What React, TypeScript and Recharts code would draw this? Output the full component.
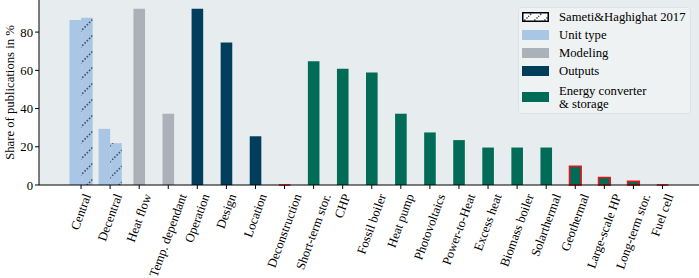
import React from 'react';
import { BarChart, Bar, XAxis, YAxis, CartesianGrid, Legend, Label } from 'recharts';

const categories = [
  'Central', 'Decentral', 'Heat flow', 'Temp. dependant', 'Operation', 'Design', 'Location',
  'Deconstruction', 'Short-term stor.', 'CHP', 'Fossil boiler', 'Heat pump', 'Photovoltaics',
  'Power-to-Heat', 'Excess heat', 'Biomass boiler', 'Solarthermal', 'Geothermal', 'Large-scale HP',
  'Long-term stor.', 'Fuel cell',
];
const groups = [
  'Unit type', 'Unit type', 'Modeling', 'Modeling', 'Outputs', 'Outputs', 'Outputs', 'Outputs',
  'Energy converter & storage', 'Energy converter & storage', 'Energy converter & storage',
  'Energy converter & storage', 'Energy converter & storage', 'Energy converter & storage',
  'Energy converter & storage', 'Energy converter & storage', 'Energy converter & storage',
  'Energy converter & storage', 'Energy converter & storage', 'Energy converter & storage',
  'Energy converter & storage',
];
// share of publications in % (this review)
const shares = [86.3, 29.4, 92.2, 37.3, 92.2, 74.5, 25.5, 0, 64.7, 60.8, 58.8, 37.3, 27.5, 23.5, 19.6, 19.6, 19.6, 9.8, 3.9, 2.0, 0];
// Sameti & Haghighat 2017, only unit type
const sametiShares = [87.5, 21.9, null, null, null, null, null, null, null, null, null, null, null, null, null, null, null, null, null, null, null];
const highlighted = ['Deconstruction', 'Geothermal', 'Large-scale HP', 'Long-term stor.', 'Fuel cell'];
const groupNames = ['Unit type', 'Modeling', 'Outputs', 'Energy converter & storage'];
const referenceName = 'Sameti&Haghighat 2017';
const yTicks = [0, 20, 40, 60, 80];

const groupColors: Record<string, string> = {
  'Unit type': '#a9c7e4',
  'Modeling': '#aab1b8',
  'Outputs': '#003e5c',
  'Energy converter & storage': '#006b56',
};

const FONT = '"Liberation Serif", "Times New Roman", serif';
const FS = 12.7;

const data = categories.map((name, i) => ({
  name,
  share: shares[i],
  sameti: sametiShares[i],
  group: groups[i],
  highlight: highlighted.includes(name),
}));

const ctx = typeof document !== 'undefined' ? document.createElement('canvas').getContext('2d') : null;
const measure = (s: string) => {
  if (!ctx) return s.length * FS * 0.45;
  ctx.font = `${FS}px ${FONT}`;
  return ctx.measureText(s).width;
};

const rad = (70 * Math.PI) / 180;

// matplotlib-style rotated label: bounding box centred on the tick, top just below it
const XTick = (props: any) => {
  const { x, y, payload } = props;
  const len = measure(payload.value);
  const h = len * Math.sin(rad) + FS * 1.1 * Math.cos(rad);
  const cy = y + 1 + h / 2;
  return (
    <text
      transform={`translate(${x},${cy}) rotate(-70)`}
      textAnchor="middle"
      dominantBaseline="central"
      fontFamily={FONT}
      fontSize={FS}
      fill="#000"
    >
      {payload.value}
    </text>
  );
};

const MainBar = (props: any) => {
  const { x, y, width, height, payload } = props;
  if (x == null || y == null || isNaN(y)) return null;
  const left = payload.sameti == null ? x + width / 2 : x;
  const top = Math.min(y, y + height);
  const h = Math.abs(height || 0);
  const d = `M${left},${top + h}V${top}H${left + width}V${top + h}Z`;
  return (
    <path
      d={d}
      fill={groupColors[payload.group]}
      stroke={payload.highlight ? '#e8141c' : 'none'}
      strokeWidth={1.6}
    />
  );
};

const renderYLabel = (props: any) => {
  const vb = props.viewBox;
  const cx = vb.x + 10;
  const cy = vb.y + vb.height / 2;
  return (
    <text
      transform={`translate(${cx},${cy}) rotate(-90)`}
      textAnchor="middle"
      dominantBaseline="central"
      fontFamily={FONT}
      fontSize={FS}
      fill="#000"
    >
      Share of publications in %
    </text>
  );
};

// legend drawn as svg so it uses the same text rendering as the axes
const LegendBox = () => {
  const entries = [referenceName, ...groupNames];
  let rowTop = 1;
  return (
    <svg width={173} height={107} style={{ display: 'block' }}>
      <defs>
        <pattern id="legendHatch" patternUnits="userSpaceOnUse" width={10} height={10}>
          <rect width={10} height={10} fill="#fff" />
          <line x1={0} y1={10} x2={10} y2={0} stroke="#3d5168" strokeWidth={1.5} strokeDasharray="1.5 1.5" />
        </pattern>
      </defs>
      <rect x={0.5} y={0.5} width={172} height={106} rx={3} fill="#eef2f3" stroke="#dde3e5" />
      {entries.map((name, i) => {
        const lines = name.replace(' & ', '\n& ').split('\n');
        const multi = lines.length > 1;
        if (multi) rowTop += 4;
        const rowH = multi ? 26 : 18;
        const cy = rowTop + rowH / 2;
        rowTop += rowH;
        return (
          <g key={name}>
            {i === 0 ? (
              <rect x={4.75} y={cy - 4.25} width={25.5} height={8.5} fill="url(#legendHatch)" stroke="#000" strokeWidth={1.5} />
            ) : (
              <rect x={4} y={cy - 5} width={27} height={10} fill={groupColors[name]} />
            )}
            {lines.map((ln, j) => (
              <text
                key={ln}
                x={41}
                y={cy + (j - (lines.length - 1) / 2) * 13}
                dominantBaseline="central"
                fontFamily={FONT}
                fontSize={FS}
                fill="#000"
              >
                {ln}
              </text>
            ))}
          </g>
        );
      })}
    </svg>
  );
};

export default function App() {
  return (
    <div style={{ position: 'absolute', left: 0, top: 0, width: 699, height: 278, background: '#fff' }}>
      <BarChart
        width={699}
        height={278}
        data={data}
        margin={{ top: 0, right: 0, left: 0, bottom: 0 }}
        barSize={11.6}
        barGap={0}
      >
        <defs>
          <pattern id="sametiHatch" patternUnits="userSpaceOnUse" width={16} height={16}>
            <rect width={16} height={16} fill={groupColors['Unit type']} />
            <line x1={0} y1={16} x2={16} y2={0} stroke="#3d5168" strokeWidth={1.6} strokeDasharray="1.6 1.6" />
          </pattern>
        </defs>
        <CartesianGrid fill="#e7edee" horizontal={false} vertical={false} />
        <XAxis
          dataKey="name"
          type="category"
          interval={0}
          height={93}
          padding={{ left: 27.5, right: 22 }}
          tickSize={4}
          tickMargin={2}
          axisLine={{ stroke: '#000', strokeWidth: 1 }}
          tickLine={{ stroke: '#000', strokeWidth: 1 }}
          tick={<XTick />}
        />
        <YAxis
          type="number"
          domain={[0, 96.8]}
          ticks={yTicks}
          width={39}
          tickSize={4}
          tickMargin={2}
          axisLine={{ stroke: '#000', strokeWidth: 1 }}
          tickLine={{ stroke: '#000', strokeWidth: 1 }}
          tick={{ fill: '#000', fontSize: FS, fontFamily: FONT }}
          label={<Label content={renderYLabel} />}
        />
        <Bar dataKey="share" shape={<MainBar />} isAnimationActive={false} />
        <Bar dataKey="sameti" fill="url(#sametiHatch)" isAnimationActive={false} />
        <Legend
          layout="vertical"
          align="center"
          verticalAlign="middle"
          content={<LegendBox />}
          wrapperStyle={{ left: 518, top: 7, width: 173, height: 107 }}
        />
      </BarChart>
    </div>
  );
}
